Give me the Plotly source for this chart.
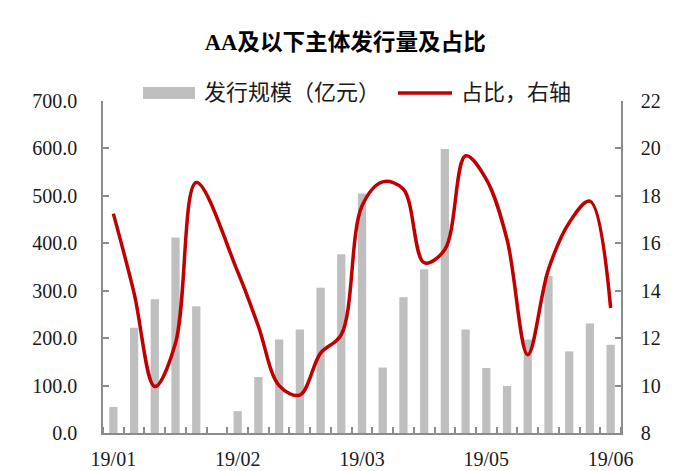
import plotly.graph_objects as go

# Weekly issuance of AA-and-below issuers (100m CNY) and its share (%)
week_idx = list(range(25))
tick_pos = [0, 6, 12, 18, 24]
tick_text = ["19/01", "19/02", "19/03", "19/05", "19/06"]

issuance = [55, 222, 282, 412, 267, 0, 46, 118, 197, 218, 306, 377, 505, 138,
            286, 345, 599, 218, 137, 99, 197, 331, 172, 231, 186]
share = [17.25, 13.9, 9.96, 11.8, 18.56, None, 14.8, 12.5, 10.0, 9.6, 11.37, 12.15,
         17.57, 18.59, 18.28, 15.18, 15.74, 19.69, 18.7, 16.16, 11.3, 14.9,
         16.87, 17.78, 13.27]

bar_color = "#BFBFBF"
line_color = "#C00000"
axis_color = "#8C8C8C"
font_family = "Liberation Serif, Times New Roman, Noto Sans CJK SC, serif"

fig = go.Figure()
fig.add_trace(go.Bar(
    x=week_idx, y=issuance, name="发行规模（亿元）",
    marker=dict(color=bar_color, line=dict(width=0)), width=0.4,
    xaxis="x", yaxis="y",
))
fig.add_trace(go.Scatter(
    x=week_idx, y=share, name="占比，右轴", mode="lines",
    line=dict(color=line_color, width=3.5, shape="spline", smoothing=1.0),
    connectgaps=True, xaxis="x", yaxis="y2",
))

fig.update_layout(
    width=677, height=471,
    margin=dict(l=103, r=56, t=101, b=38, pad=0),
    paper_bgcolor="white", plot_bgcolor="white",
    showlegend=False,
    font=dict(family=font_family, size=20, color="#1a1a1a"),
    title=dict(text="<b>AA及以下主体发行量及占比</b>", x=0.51, xanchor="center",
               y=0.91, yanchor="middle",
               font=dict(family=font_family, size=22.6, color="#000")),
    xaxis=dict(
        range=[-0.5, 24.5], showgrid=False, zeroline=False, automargin=False,
        showline=True, linecolor=axis_color, linewidth=1.5,
        tickmode="array", tickvals=tick_pos, ticktext=tick_text,
        ticks="", ticklabelstandoff=7,
        minor=dict(tick0=0.5, dtick=1, ticks="inside", ticklen=6,
                   tickcolor=axis_color, tickwidth=1.5, showgrid=False),
    ),
    yaxis=dict(
        range=[0, 700], dtick=100, tickformat=".1f", showgrid=False,
        zeroline=False, showline=True, linecolor=axis_color, linewidth=1.5,
        ticks="inside", ticklen=6, tickcolor=axis_color, tickwidth=1.5,
        ticklabelstandoff=20, automargin=False,
    ),
    yaxis2=dict(
        range=[8, 22], dtick=2, overlaying="y", side="right", showgrid=False,
        zeroline=False, showline=True, linecolor=axis_color, linewidth=1.5,
        ticks="inside", ticklen=6, tickcolor=axis_color, tickwidth=1.5,
        ticklabelstandoff=14, automargin=False,
    ),
    bargap=0.6,
)

# Legend drawn above the plot area
fig.add_shape(type="rect", xref="paper", yref="paper",
              x0=(143 - 103) / 518, x1=(195 - 103) / 518,
              y0=(433 - 87) / 332, y1=(433 - 99) / 332,
              fillcolor=bar_color, line=dict(width=0))
fig.add_shape(type="line", xref="paper", yref="paper",
              x0=(398 - 103) / 518, x1=(452 - 103) / 518,
              y0=(433 - 93) / 332, y1=(433 - 93) / 332,
              line=dict(color=line_color, width=3.5))
fig.add_annotation(xref="paper", yref="paper", x=(202 - 103) / 518,
                   y=(433 - 93) / 332, xanchor="left", yanchor="middle",
                   text="发行规模（亿元）", showarrow=False,
                   font=dict(family=font_family, size=22, color="#1a1a1a"))
fig.add_annotation(xref="paper", yref="paper", x=(459 - 103) / 518,
                   y=(433 - 93) / 332, xanchor="left", yanchor="middle",
                   text="占比，右轴", showarrow=False,
                   font=dict(family=font_family, size=22, color="#1a1a1a"))

fig.write_html("out.html")
